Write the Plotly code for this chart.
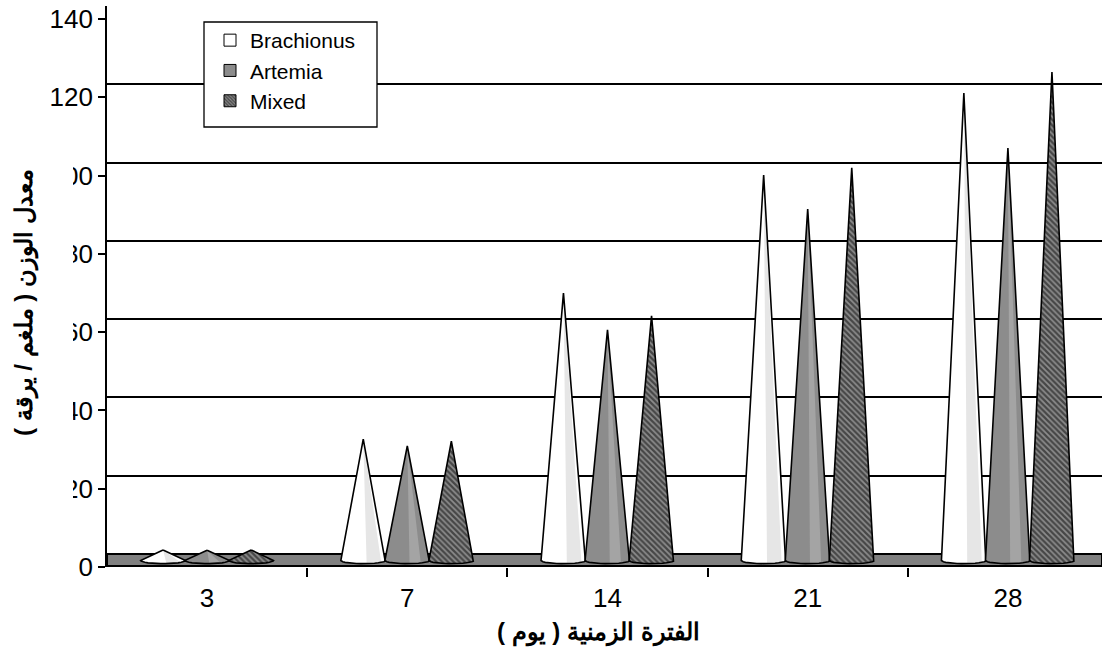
import numpy as np
import plotly.graph_objects as go

# ---------------- data ----------------
days = ["3", "7", "14", "21", "28"]
brachionus = [2.7, 31.0, 68.3, 98.5, 119.4]
artemia = [2.6, 29.3, 58.9, 89.8, 105.4]
mixed = [2.7, 30.5, 62.5, 100.3, 124.8]
series_names = ["Brachionus", "Artemia", "Mixed"]
y_ticks = [0, 20, 40, 60, 80, 100, 120, 140]
x_title = "الفترة الزمنية ( يوم )"
y_title = "معدل الوزن ( ملغم / يرقة )"

# ---------------- geometry / style ----------------
W, H = 1102, 655
ML, MR, MT, MB = 107, 0, 6, 88
PW, PH = W - ML - MR, H - MT - MB
PX_PER_UNIT = 3.914
DEPTH_PX = 13
back_min = -DEPTH_PX / PX_PER_UNIT          # back-wall scale at plot bottom
front_max = PH / PX_PER_UNIT                 # front scale at plot top
base_level = back_min / 2                    # cones stand in the middle of the floor depth
X_RANGE = [-0.5, 4.47]
OFFSETS = [-0.22, 0.0, 0.22]
HALF_W = 0.112
RY = 0.8
FONT = "Arial, Liberation Sans, sans-serif"
TICK_SIZE = 26


def px_x(p):
    return (p - ML) / PW


def px_y(p):
    return (H - MB - p) / PH


x_pos = np.arange(len(days))


def cone_polys(values, offset, shade=None):
    xs, ys = [], []
    t = np.linspace(0, np.pi, 16)
    for xi, v in zip(x_pos, values):
        cx = xi + offset
        tip = v + base_level
        if shade is None:
            px = [cx] + list(cx + HALF_W * np.cos(t)) + [cx]
            py = [tip] + list(base_level - RY * np.sin(t)) + [tip]
        else:
            a, b = shade
            tt = np.linspace(np.arccos(b), np.arccos(a), 6)
            px = [cx] + list(cx + HALF_W * np.cos(tt)) + [cx]
            py = [tip] + list(base_level - RY * np.sin(tt)) + [tip]
        xs += px + [None]
        ys += py + [None]
    return xs, ys


fig = go.Figure()

mixed_pattern = dict(shape="\\", fgcolor="#000000", bgcolor="#8c8c8c", size=4, solidity=0.55)
styles = [
    dict(fill="#ffffff", shade=("#e6e6e6", (0.15, 0.8)), pattern=None),
    dict(fill="#8c8c8c", shade=("#a4a4a4", (0.1, 0.6)), pattern=None),
    dict(fill="#808080", shade=None, pattern=mixed_pattern),
]
all_series = [brachionus, artemia, mixed]

for vals, off, st in zip(all_series, OFFSETS, styles):
    bx, by = cone_polys(vals, off)
    body = dict(x=bx, y=by, mode="lines", fill="toself", line=dict(width=0),
                fillcolor=st["fill"], showlegend=False, hoverinfo="skip")
    if st["pattern"] is not None:
        body["fillpattern"] = st["pattern"]
    fig.add_trace(go.Scatter(**body))
    if st["shade"] is not None:
        sx, sy = cone_polys(vals, off, shade=st["shade"][1])
        fig.add_trace(go.Scatter(x=sx, y=sy, mode="lines", fill="toself", line=dict(width=0),
                                 fillcolor=st["shade"][0], showlegend=False, hoverinfo="skip"))
    fig.add_trace(go.Scatter(x=bx, y=by, mode="lines", line=dict(color="black", width=1.6),
                             showlegend=False, hoverinfo="skip"))

# legend entries
legend_markers = [
    dict(color="white", line=dict(color="black", width=1)),
    dict(color="#8c8c8c", line=dict(color="black", width=1)),
    dict(color="#808080", line=dict(color="black", width=1),
         pattern=dict(shape="\\", fgcolor="#000000", bgcolor="#8c8c8c", size=3, solidity=0.55)),
]
for name, mk in zip(series_names, legend_markers):
    fig.add_trace(go.Bar(x=[None], y=[None], name=name, marker=mk, legendgroup=name))

# invisible trace for the front (label) axis
fig.add_trace(go.Scatter(x=[None], y=[None], yaxis="y2", showlegend=False, hoverinfo="skip"))

# floor
fig.add_shape(type="rect", xref="paper", yref="y", x0=0, x1=1, y0=0, y1=back_min * 0.93,
              fillcolor="#808080", line=dict(color="black", width=2), layer="below")

# legend frame
fig.add_shape(type="rect", xref="paper", yref="paper",
              x0=px_x(204), x1=px_x(377), y0=px_y(127), y1=px_y(22),
              fillcolor="white", line=dict(color="black", width=1.3), layer="above")

# white box hiding the left part of tick labels under the y title (as in original)
fig.add_shape(type="rect", xref="paper", yref="paper",
              x0=px_x(0), x1=px_x(73), y0=px_y(505), y1=px_y(112),
              fillcolor="white", line=dict(width=0), layer="above")

fig.add_annotation(text=y_title, textangle=-90, xref="paper", yref="paper",
                   x=px_x(24), y=px_y(303), xanchor="center", yanchor="middle",
                   showarrow=False,
                   font=dict(family=FONT, size=24, color="black", weight="bold"))
fig.add_annotation(text=x_title, xref="paper", yref="paper",
                   x=px_x(598), y=px_y(632), xanchor="center", yanchor="middle",
                   showarrow=False,
                   font=dict(family=FONT, size=24, color="black", weight="bold"))

fig.update_layout(
    width=W, height=H,
    margin=dict(l=ML, r=MR, t=MT, b=MB, pad=0),
    paper_bgcolor="white", plot_bgcolor="white",
    font=dict(family=FONT, color="black"),
    xaxis=dict(range=X_RANGE, tickmode="array", tickvals=list(x_pos), ticktext=days,
               ticks="", ticklen=0, showgrid=False, zeroline=False, showline=False,
               tickfont=dict(size=TICK_SIZE), ticklabelstandoff=13,
               minor=dict(tickmode="array", tickvals=list(x_pos[:-1] + 0.5),
                          ticks="outside", ticklen=9, tickwidth=1.5, tickcolor="black")),
    yaxis=dict(range=[back_min, 140], tickmode="array", tickvals=y_ticks,
               showticklabels=False, showgrid=True, gridcolor="black", gridwidth=1.6,
               zeroline=False, showline=False, ticks=""),
    yaxis2=dict(overlaying="y", side="left", range=[0, front_max], tickmode="array",
                tickvals=y_ticks, ticks="outside", ticklen=7, tickwidth=1.5, tickcolor="black",
                showline=True, linecolor="black", linewidth=1.6, showgrid=False,
                zeroline=False, tickfont=dict(size=TICK_SIZE)),
    barmode="group",
    legend=dict(x=px_x(210), y=px_y(20), xanchor="left", yanchor="top",
                bgcolor="rgba(0,0,0,0)", borderwidth=0,
                font=dict(size=21, family=FONT), tracegroupgap=4, traceorder="normal"),
    showlegend=True,
)

fig.write_html("out.html")
